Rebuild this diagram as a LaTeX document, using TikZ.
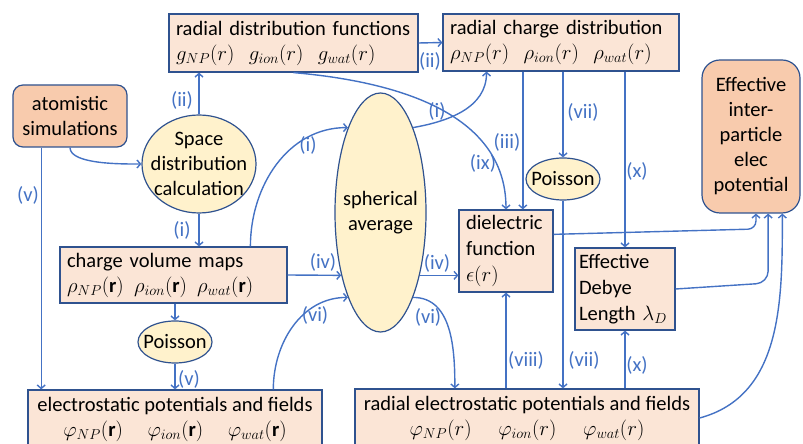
\documentclass[tikz,border=0pt]{standalone}
\usepackage{amsmath}
\usepackage{fontspec}
\setmainfont{Carlito}
\usepackage{tikz}
\usetikzlibrary{arrows.meta,calc,shapes.geometric}

\definecolor{peach}{HTML}{FBE5D6}
\definecolor{cream}{HTML}{FFF2CC}
\definecolor{simorange}{HTML}{F8CBAD}
\definecolor{edgeblue}{HTML}{2F528F}
\definecolor{flowblue}{HTML}{4472C4}

\tikzset{
  box/.style={draw=edgeblue, fill=peach, line width=1.2pt, inner xsep=7pt, inner ysep=2pt, align=left},
  simbox/.style={draw=edgeblue, fill=simorange, line width=1.2pt, align=center, inner sep=2pt},
  bubble/.style={ellipse, draw=edgeblue, fill=cream, line width=1.2pt, inner sep=0pt},
  conn/.style={draw=flowblue, line width=1.4pt, -{Straight Barb[length=3.5pt,width=8pt]}},
  lbl/.style={text=flowblue, inner sep=1pt}
}

\begin{document}
\begin{tikzpicture}[x=1pt, y=1pt, font=\fontsize{20.5}{25}\selectfont]
  \useasboundingbox (0,0) rectangle (803,444);
  \clip (0,0) rectangle (803,444);
  % boxes
  \node[simbox, rounded corners=10pt, minimum width=114pt, minimum height=62pt] (atom) at (70,328)
    {atomistic\\simulations};
  \node[box, text width=235pt, minimum height=58pt] (rdf) at (293.5,401)
    {radial distribution functions\\$g_{NP}(r)\hspace{0.7em}g_{ion}(r)\hspace{0.7em}g_{wat}(r)$};
  \node[box, text width=222pt, minimum height=57pt] (chg) at (561,401.5)
    {radial charge distribution\\$\rho_{NP}(r)\hspace{0.7em}\rho_{ion}(r)\hspace{0.7em}\rho_{wat}(r)$};
  \node[simbox, rounded corners=18pt, minimum width=98pt, minimum height=153pt] (eff) at (751,307.5)
    {Effective\\inter-\\particle\\elec\\potential};
  \node[box, text width=80pt, minimum height=82pt, font=\fontsize{20.5}{26}\selectfont] (diel) at (506,193)
    {dielectric\\function\\$\epsilon(r)$};
  \node[box, text width=92pt, inner xsep=4pt, minimum height=82pt, font=\fontsize{20.5}{26}\selectfont] (debye) at (625,155)
    {Effective\\Debye\\Length $\lambda_D$};
  \node[box, text width=213pt, minimum height=56pt] (cvm) at (173.5,169)
    {charge volume maps\\$\rho_{NP}(\mathbf{r})\hspace{0.5em}\rho_{ion}(\mathbf{r})\hspace{0.5em}\rho_{wat}(\mathbf{r})$};
  \node[box, align=center, minimum width=294pt, minimum height=58pt] (estat) at (175,25)
    {electrostatic potentials and fields\\$\varphi_{NP}(\mathbf{r})\hspace{1.2em}\varphi_{ion}(\mathbf{r})\hspace{1.2em}\varphi_{wat}(\mathbf{r})$};
  \node[box, align=center, minimum width=344pt, minimum height=58pt] (restat) at (527,26)
    {radial electrostatic potentials and fields\\$\varphi_{NP}(r)\hspace{1.3em}\varphi_{ion}(r)\hspace{1.3em}\varphi_{wat}(r)$};
  % ellipses
  \node[bubble, minimum width=114pt, minimum height=98pt,
    label={[align=center]center:{Space\\distribution\\calculation}}] (space) at (199,280) {};
  \node[bubble, minimum width=91pt, minimum height=239pt,
    label={[align=center]center:{spherical\\average}}] (sph) at (380.5,231.5) {};
  \node[bubble, minimum width=74pt, minimum height=42pt, label=center:Poisson] (poiA) at (175,102) {};
  \node[bubble, minimum width=74pt, minimum height=42pt, label=center:Poisson] (poiB) at (563,265) {};
  % attach points
  \coordinate (atom-v) at ($(atom.south west)!0.25!(atom.south east)$);
  \coordinate (cvm-i) at ($(cvm.north west)!0.837!(cvm.north east)$);
  \coordinate (estat-vi) at ($(estat.north west)!0.833!(estat.north east)$);
  \coordinate (chg-i) at ($(chg.south west)!0.186!(chg.south east)$);
  \coordinate (chg-iii) at ($(chg.south west)!0.339!(chg.south east)$);
  \coordinate (restat-vi) at ($(restat.north west)!0.291!(restat.north east)$);
  \coordinate (diel-out) at ($(diel.north east)!0.3!(diel.south east)$);
  \coordinate (eff-a) at ($(eff.south west)!0.55!(eff.south east)$);
  \coordinate (eff-b) at ($(eff.south west)!0.673!(eff.south east)$);
  \coordinate (eff-c) at ($(eff.south west)!0.816!(eff.south east)$);
  % connectors
  \draw[conn] (atom.south) to[out=-90, in=180, looseness=0.6] (space.west);
  \draw[conn] (atom-v) -- (atom-v |- estat.north);
  \draw[conn] (space.north) -- (space.north |- rdf.south);
  \draw[conn] (space.south) -- (space.south |- cvm.north);
  \draw[conn] (cvm-i) to[out=90, in=180] (sph.111);
  \draw[conn] (cvm.east) -- (sph.238);
  \draw[conn] (estat-vi) to[out=90, in=180] (sph.249);
  \draw[conn] (poiA.north |- cvm.south) -- (poiA.north);
  \draw[conn] (poiA.south) -- (poiA.south |- estat.north);
  \draw[conn] (rdf.east) -- (chg.west);
  \draw[conn] (rdf.south) to[out=-5, in=90] (diel.north);
  \draw[conn] (sph.69) to[out=10, in=-90] (chg-i);
  \draw[conn] (chg-iii) -- (chg-iii |- diel.north);
  \draw[conn] (poiB.north |- chg.south) -- (poiB.north);
  \draw[conn] (debye.north |- chg.south) -- (debye.north);
  \draw[conn] (sph.302) -- (sph.302 -| diel.west);
  \draw[conn] (sph.291) to[out=0, in=90] (restat-vi);
  \draw[conn] (diel.south |- restat.north) -- (diel.south);
  \draw[conn] (poiB.south) -- (poiB.south |- restat.north);
  \draw[conn] (debye.south |- restat.north) -- (debye.south);
  \draw[conn, rounded corners=8pt] (diel-out) -- (eff-a |- 0,215) -- (eff-a);
  \draw[conn, rounded corners=12pt] (debye.east) -- (eff-b |- 0,161) -- (eff-b);
  \draw[conn] (restat.east) to[out=15, in=-90] (eff-c);
  % step labels
  \node[lbl] (l-ii-a) at (182,344) {(ii)};
  \node[lbl] (l-i-a) at (182,214) {(i)};
  \node[lbl] (l-v-a) at (28,249) {(v)};
  \node[lbl] (l-i-b) at (308,299) {(i)};
  \node[lbl] (l-iv-a) at (323,182) {(iv)};
  \node[lbl] (l-vi-a) at (315,129) {(vi)};
  \node[lbl] (l-v-b) at (189,65) {(v)};
  \node[lbl] (l-ii-b) at (430,383) {(ii)};
  \node[lbl] (l-i-c) at (437,333) {(i)};
  \node[lbl] (l-ix) at (483,281) {(ix)};
  \node[lbl] (l-iii) at (507,302) {(iii)};
  \node[lbl] (l-vii-a) at (583,332) {(vii)};
  \node[lbl] (l-x-a) at (637,273) {(x)};
  \node[lbl] (l-iv-b) at (437,181) {(iv)};
  \node[lbl] (l-vi-b) at (428,127) {(vi)};
  \node[lbl] (l-viii) at (526,84) {(viii)};
  \node[lbl] (l-vii-b) at (584,84) {(vii)};
  \node[lbl] (l-x-b) at (637,79) {(x)};
\end{tikzpicture}
\end{document}
